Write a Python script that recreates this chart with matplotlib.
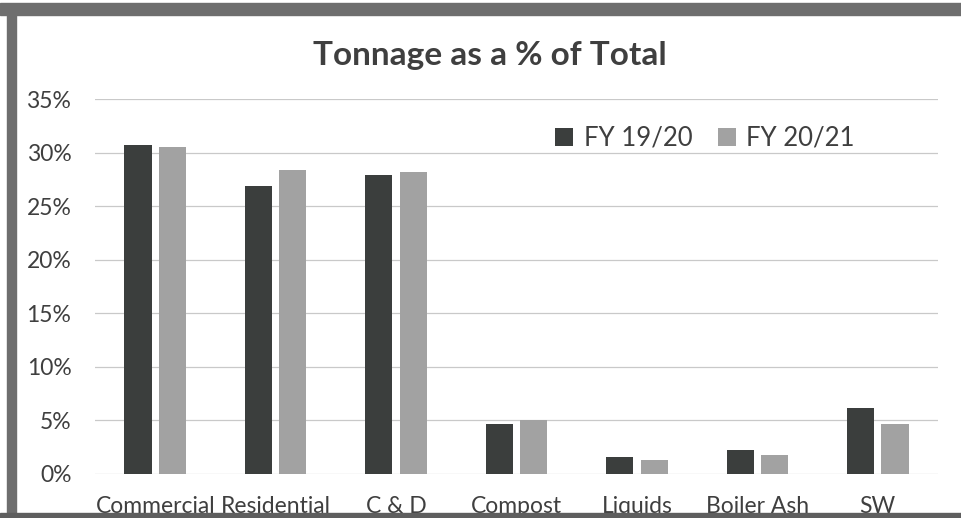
import numpy as np
import matplotlib
matplotlib.use("Agg")
import matplotlib.pyplot as plt
from matplotlib.patches import Rectangle
from matplotlib.ticker import PercentFormatter

# --- data ---
categories = ["Commercial", "Residential", "C & D", "Compost", "Liquids", "Boiler Ash", "SW"]
fy_1920 = [30.7, 26.9, 27.9, 4.7, 1.6, 2.2, 6.2]
fy_2021 = [30.5, 28.4, 28.2, 5.0, 1.35, 1.8, 4.7]
series_names = ["FY 19/20", "FY 20/21"]
y_ticks = [0, 5, 10, 15, 20, 25, 30, 35]

dark = "#3b3e3d"
light = "#a2a2a2"
text_col = "#3f3f3f"

plt.rcParams['font.family'] = ['Lato', 'DejaVu Sans']

fig = plt.figure(figsize=(9.61, 5.18), dpi=100)
W, H = 961, 518
ax = fig.add_axes([95 / W, (H - 474) / H, (938 - 95) / W, (474 - 99) / H])

x = np.arange(len(categories))
bw = 0.225
off = 0.143
ax.bar(x - off, fy_1920, bw, color=dark, label=series_names[0], zorder=3)
ax.bar(x + off, fy_2021, bw, color=light, label=series_names[1], zorder=3)

ax.set_xlim(-0.5, len(categories) - 0.5)
ax.set_ylim(0, 35)
ax.set_yticks(y_ticks)
ax.yaxis.set_major_formatter(PercentFormatter(decimals=0))
ax.set_xticks(x)
ax.set_xticklabels(categories)
ax.grid(axis='y', color="#c9c9c9", linewidth=0.9, zorder=0)
for s in ax.spines.values():
    s.set_visible(False)
ax.tick_params(axis='both', length=0, colors=text_col, labelsize=16.5)
ax.tick_params(axis='y', pad=17)
ax.tick_params(axis='x', pad=16)

fig.text(490 / W, 1 - 56 / H, "Tonnage as a % of Total", ha='center', va='center',
         fontsize=24, fontweight='bold', color=text_col)

ax.legend(loc='center', bbox_to_anchor=((705 - 95) / (938 - 95), (474 - 138) / (474 - 99)),
          ncol=2, frameon=False, fontsize=18.5, handlelength=0.7, handleheight=0.7,
          handletextpad=0.4, columnspacing=1.0, labelcolor=text_col)

# scanned frame
fig.patches.append(Rectangle((0, (H - 15) / H), 1, 12 / H, transform=fig.transFigure,
                             color="#6e6e6e", zorder=10))
fig.patches.append(Rectangle((7 / W, 0), 9 / W, (H - 5) / H, transform=fig.transFigure,
                             color="#6e6e6e", zorder=10))
fig.patches.append(Rectangle((0, 0), 1, 5 / H, transform=fig.transFigure,
                             color="#5e5e5e", zorder=10))

fig.savefig("out.png", dpi=100)
